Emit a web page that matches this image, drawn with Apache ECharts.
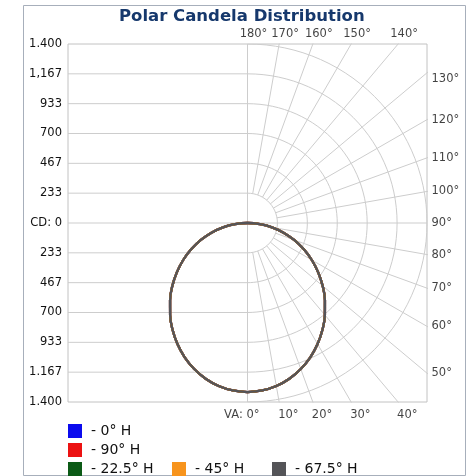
<!DOCTYPE html>
<html>
<head>
<meta charset="utf-8">
<script src="https://cdn.jsdelivr.net/npm/echarts@6/dist/echarts.min.js"></script>
<style>
  html, body { margin: 0; padding: 0; background: #fff; }
  #chart { width: 468px; height: 476px; }
</style>
</head>
<body>
<div id="chart"></div>
<script>
// vertical angles in degrees, 0 = straight down
const vaAngles = [0, 5, 10, 15, 20, 25, 30, 35, 40, 45, 50, 55, 60, 65, 70, 75, 80, 85, 90];

// candela per horizontal plane (the five curves lie on top of each other)
const cd0H   = [1322, 1315, 1295, 1261, 1215, 1159, 1093, 1019, 939, 854, 765, 673, 579, 483, 387, 291, 194, 97, 0];
const cd90H  = [1322, 1315, 1295, 1261, 1215, 1159, 1093, 1019, 939, 854, 765, 673, 579, 483, 387, 291, 194, 97, 0];
const cd225H = [1322, 1315, 1295, 1261, 1215, 1159, 1093, 1019, 939, 854, 765, 673, 579, 483, 387, 291, 194, 97, 0];
const cd45H  = [1322, 1315, 1295, 1261, 1215, 1159, 1093, 1019, 939, 854, 765, 673, 579, 483, 387, 291, 194, 97, 0];
const cd675H = [1322, 1315, 1295, 1261, 1215, 1159, 1093, 1019, 939, 854, 765, 673, 579, 483, 387, 291, 194, 97, 0];

const planeNames = ['0° H', '90° H', '22.5° H', '45° H', '67.5° H'];

// candela scale
const cdMax = 1400;
const cdStep = 1400 / 6;
const cdTickLabels = ['1.400', '1,167', '933', '700', '467', '233', 'CD: 0', '233', '467', '700', '933', '1.167', '1.400'];

// polar grid
const rayAngles = [10, 20, 30, 40, 50, 60, 70, 80, 100, 110, 120, 130, 140, 150, 160, 170];
const labelAngles = [0, 10, 20, 30, 40, 50, 60, 70, 80, 90, 100, 110, 120, 130, 140, 150, 160, 170, 180];

const planeValues = [cd0H, cd90H, cd225H, cd45H, cd675H];
const planeColors = ['#0b0bee', '#ec1212', '#0b5a16', '#f7941d', '#545458'];

const rad = d => d * Math.PI / 180;
// side 1 = right half, -1 = mirrored left half
const polarPt = (r, va, side) => [side * r * Math.sin(rad(va)), -r * Math.cos(rad(va))];

function curve(vals) {
  const pts = vaAngles.map((a, i) => polarPt(vals[i], a, 1));
  for (let i = vaAngles.length - 2; i >= 0; i--) pts.push(polarPt(vals[i], vaAngles[i], -1));
  return pts;
}

const gridStyle = { color: '#cdcdcd', width: 1 };
function helperLine(data) {
  return {
    type: 'line', data: data, symbol: 'none', silent: true, animation: false,
    lineStyle: gridStyle, z: 1, clip: true, legendHoverLink: false
  };
}

const series = [];

// horizontal candela lines on the left half
for (let k = -5; k <= 5; k++) {
  const v = k * cdStep;
  series.push(helperLine([[-cdMax, v], [k === 0 ? cdMax : 0, v]]));
}
// vertical 0/180 line
series.push(helperLine([[0, -cdMax], [0, cdMax]]));
// arcs on the right half
for (let k = 1; k <= 6; k++) {
  const r = k * cdStep;
  const arc = [];
  for (let a = 0; a <= 180; a += 3) arc.push(polarPt(r, a, 1));
  series.push(helperLine(arc));
}
// rays, starting at the first ring, clipped by the grid box
rayAngles.forEach(a => {
  series.push(helperLine([polarPt(cdStep, a, 1), polarPt(cdMax * 2, a, 1)]));
});

// angle labels where the rays meet the box
const labelData = labelAngles.map(a => {
  const dx = Math.sin(rad(a)), dy = -Math.cos(rad(a));
  const tX = Math.abs(dx) > 1e-9 ? cdMax / Math.abs(dx) : Infinity;
  const tY = Math.abs(dy) > 1e-9 ? cdMax / Math.abs(dy) : Infinity;
  const t = Math.min(tX, tY);
  const edge = tX < tY - 1e-6 ? 'right' : (dy > 0 ? 'top' : 'bottom');
  let label;
  if (edge === 'top') label = { position: 'top', distance: 3, offset: [6, 0] };
  else if (edge === 'right') label = { position: 'right', distance: 4, offset: [0, a === 130 ? 6 : 0] };
  else if (a === 0) label = { position: 'bottom', distance: 7, align: 'right', offset: [12, 0] };
  else label = { position: 'bottom', distance: 7, align: 'left', offset: [-1, 0] };
  label.formatter = (a === 0 ? 'VA: ' : '') + a + '°';
  return { value: [dx * t, dy * t], label: label };
});

series.push({
  type: 'scatter', data: labelData, symbol: 'rect', symbolSize: 1, clip: false,
  silent: true, animation: false, z: 6,
  itemStyle: { color: 'rgba(0,0,0,0)' },
  label: { show: true, fontSize: 11.5, color: '#111', fontFamily: 'DejaVu Sans' }
});

// candela curves
planeNames.forEach((n, i) => {
  series.push({
    name: n, type: 'line', data: curve(planeValues[i]), symbol: 'none', smooth: 0.4,
    color: planeColors[i], lineStyle: { width: 2.3 }, z: 5,
    animation: false, silent: true
  });
});

const legendSlots = [[68, 424], [68, 443], [68, 462], [172, 462], [272, 462]];

const chart = echarts.init(document.getElementById('chart'));
chart.setOption({
  backgroundColor: '#fff',
  animation: false,
  title: {
    text: 'Polar Candela Distribution', left: 119, top: 8, padding: 0,
    textStyle: { fontSize: 16.5, fontWeight: 'bold', color: '#16386c', fontFamily: 'DejaVu Sans' }
  },
  graphic: [{
    type: 'rect', silent: true, z: -1,
    shape: { x: 23.5, y: 5.5, width: 442, height: 470 },
    style: { fill: 'none', stroke: '#a7afbb', lineWidth: 1 }
  }],
  legend: planeNames.map((n, i) => ({
    data: [n], left: legendSlots[i][0], top: legendSlots[i][1], padding: 0,
    icon: 'rect', itemWidth: 14, itemHeight: 14, selectedMode: false,
    formatter: '- {name}',
    textStyle: { fontSize: 14, color: '#111', fontFamily: 'DejaVu Sans', padding: [0, 0, 0, 4] }
  })),
  grid: {
    left: 68, top: 44, right: 41, bottom: 74,
    show: true, borderColor: '#c2c2c2', borderWidth: 1
  },
  xAxis: {
    type: 'value', min: -cdMax, max: cdMax, show: false
  },
  yAxis: {
    type: 'value', min: -cdMax, max: cdMax, interval: cdStep,
    axisLine: { show: false }, axisTick: { show: false }, splitLine: { show: false },
    axisLabel: {
      margin: 6, fontSize: 11.5, color: '#111', fontFamily: 'DejaVu Sans',
      formatter: v => cdTickLabels[Math.round((cdMax - v) / cdStep)]
    }
  },
  series: series
});
</script>
</body>
</html>
